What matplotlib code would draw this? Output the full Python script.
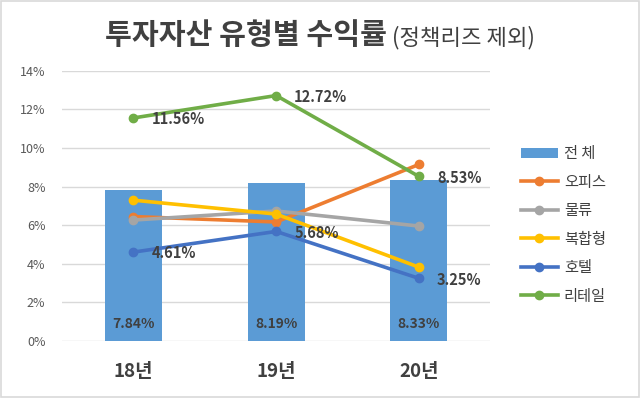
import matplotlib.pyplot as plt
from matplotlib.patches import Rectangle
from matplotlib.ticker import PercentFormatter

plt.rcParams['font.family'] = ['Noto Sans CJK KR', 'DejaVu Sans']

# data (% values)
years = ['18년', '19년', '20년']
total = [7.84, 8.19, 8.33]
office = [6.45, 6.17, 9.15]
logistics = [6.27, 6.74, 5.96]
mixed = [7.30, 6.58, 3.83]
hotel = [4.61, 5.68, 3.25]
retail = [11.56, 12.72, 8.53]

line_series = [
    ('오피스', office, '#ED7D31'),
    ('물류', logistics, '#A5A5A5'),
    ('복합형', mixed, '#FFC000'),
    ('호텔', hotel, '#4472C4'),
    ('리테일', retail, '#70AD47'),
]
text_color = '#404040'

fig = plt.figure(figsize=(6.4, 3.98), dpi=100)
ax = fig.add_axes([0.097, 0.143, 0.669, 0.679])

x = range(len(years))
bars = ax.bar(x, total, width=0.4, color='#5B9BD5', label='전 체', zorder=2)
for i, v in enumerate(total):
    ax.text(i, 0.9, f'{v:.2f}%', ha='center', va='center', fontsize=10,
            fontweight='bold', color=text_color, zorder=5)

handles = [bars]
for name, vals, col in line_series:
    ln, = ax.plot(x, vals, color=col, lw=2.6, marker='o', ms=6, label=name, zorder=3)
    handles.append(ln)

# labels on hotel and retail lines
for vals in (hotel, retail):
    for i, v in enumerate(vals):
        ax.annotate(f'{v:.2f}%', (i, v), xytext=(13, -1), textcoords='offset points',
                    ha='left', va='center', fontsize=10.5, fontweight='bold',
                    color=text_color, zorder=5)

ax.set_xlim(-0.5, 2.5)
ax.set_ylim(0, 14)
ax.set_yticks(range(0, 15, 2))
ax.yaxis.set_major_formatter(PercentFormatter(decimals=0))
ax.set_xticks(list(x))
ax.set_xticklabels(years, fontsize=13.5, fontweight='bold', color=text_color)
ax.tick_params(axis='y', labelsize=9, colors='#595959', length=0, pad=12)
ax.tick_params(axis='x', length=0, pad=15)
ax.grid(axis='y', color='#D9D9D9', lw=1, zorder=0)
for s in ax.spines.values():
    s.set_visible(False)

leg = ax.legend(handles=handles, loc='center left', bbox_to_anchor=(1.04, 0.43),
                frameon=False, fontsize=11, handlelength=2.4, labelspacing=0.75,
                handletextpad=0.4)
for t in leg.get_texts():
    t.set_color(text_color)

fig.text(0.605, 0.912, '투자자산 유형별 수익률', ha='right', va='center', fontsize=21,
         fontweight='bold', color=text_color)
fig.text(0.613, 0.905, '(정책리즈 제외)', ha='left', va='center', fontsize=16,
         color=text_color)

fig.patches.append(Rectangle((0.002, 0.003), 0.996, 0.994, transform=fig.transFigure,
                             fill=False, ec='#D9D9D9', lw=1.2))

fig.savefig('out.png', dpi=100)
